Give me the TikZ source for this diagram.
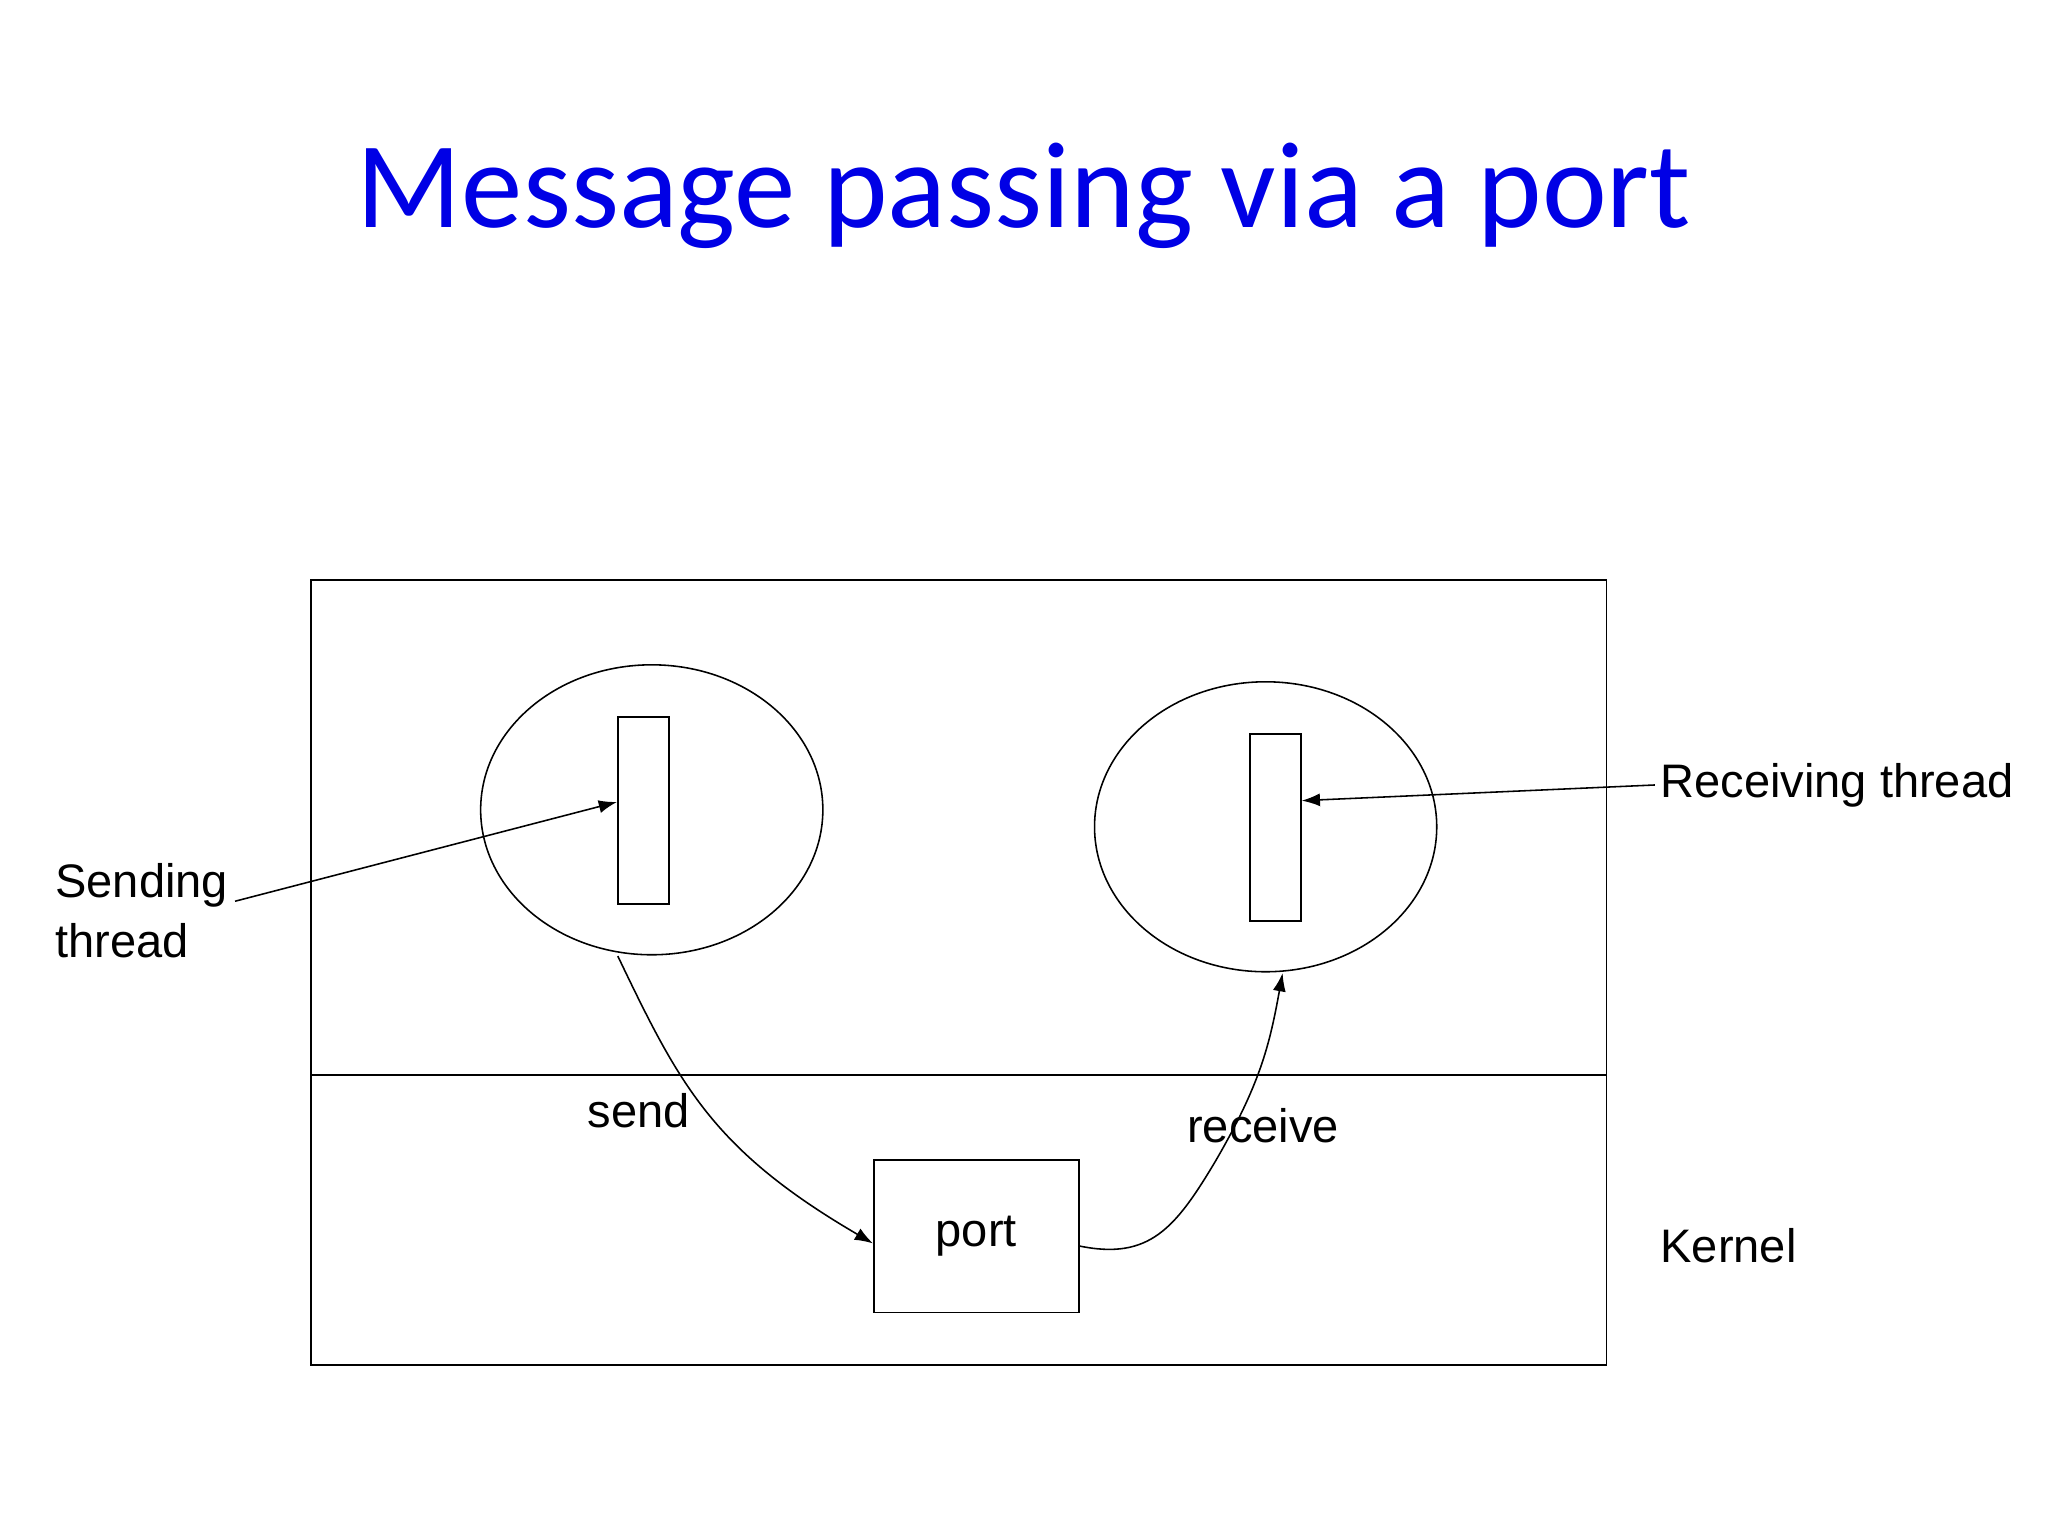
\documentclass[tikz,border=0pt]{standalone}
\usepackage{fontspec}
\setmainfont{Liberation Sans}
\newfontfamily\titlefont{Carlito}
\usetikzlibrary{arrows.meta,shapes.geometric}
\begin{document}
\begin{tikzpicture}[x=0.5pt,y=-0.5pt,
  lbl/.style={font=\fontsize{18}{23}\selectfont,inner sep=0},
  arr/.style={-{Latex[length=7pt,width=5pt]},line width=0.6pt},
  thin box/.style={draw,line width=0.6pt}]
\useasboundingbox (0,0) rectangle (1568,1176);
\node[font=\titlefont\fontsize{47}{52}\selectfont,text=blue!90!black] (title) at (784,150) {Message passing via a port};
\draw[thin box] (238,444) rectangle (1230,1045);
\coordinate (dl) at (238,823); \coordinate (dr) at (1230,823);
\draw[line width=0.6pt] (dl) -- (dr);
\node[thin box,ellipse,minimum width=131pt,minimum height=111pt,inner sep=0] (e1) at (499,620) {};
\node[thin box,ellipse,minimum width=131pt,minimum height=111pt,inner sep=0] (e2) at (969,633) {};
\node[thin box,minimum width=19.5pt,minimum height=71.5pt,inner sep=0] (t1) at (492.5,620.5) {};
\node[thin box,minimum width=19.5pt,minimum height=71.5pt,inner sep=0] (t2) at (976.5,633.5) {};
\node[thin box,minimum width=78.5pt,minimum height=58.5pt,inner sep=0,font=\fontsize{18}{23}\selectfont] (port) at (747.5,946.5) {port};
\node[lbl,anchor=west,align=left] (st) at (42,697) {Sending\\thread};
\node[lbl,anchor=west] (rt) at (1271,601) {Receiving thread};
\node[lbl] (send) at (489,850) {send};
\node[lbl] (recv) at (967,862) {receive};
\node[lbl,anchor=west] (kern) at (1271,954) {Kernel};
\coordinate (sa) at (180,690);
\draw[arr] (sa) -- (t1.west |- 0,614);
\coordinate (ra) at (1267,601);
\draw[arr] (ra) -- (t2.east |- 0,613);
\coordinate (s0) at (473,732);
\draw[arr] (s0) .. controls (520,830) and (545,880) .. (port.west |- 0,952);
\coordinate (r1) at (982,745);
\draw[arr] (port.east |- 0,954) .. controls (880,965) and (900,940) .. (930,890) .. controls (965,830) and (972,800) .. (r1);
\end{tikzpicture}
\end{document}
